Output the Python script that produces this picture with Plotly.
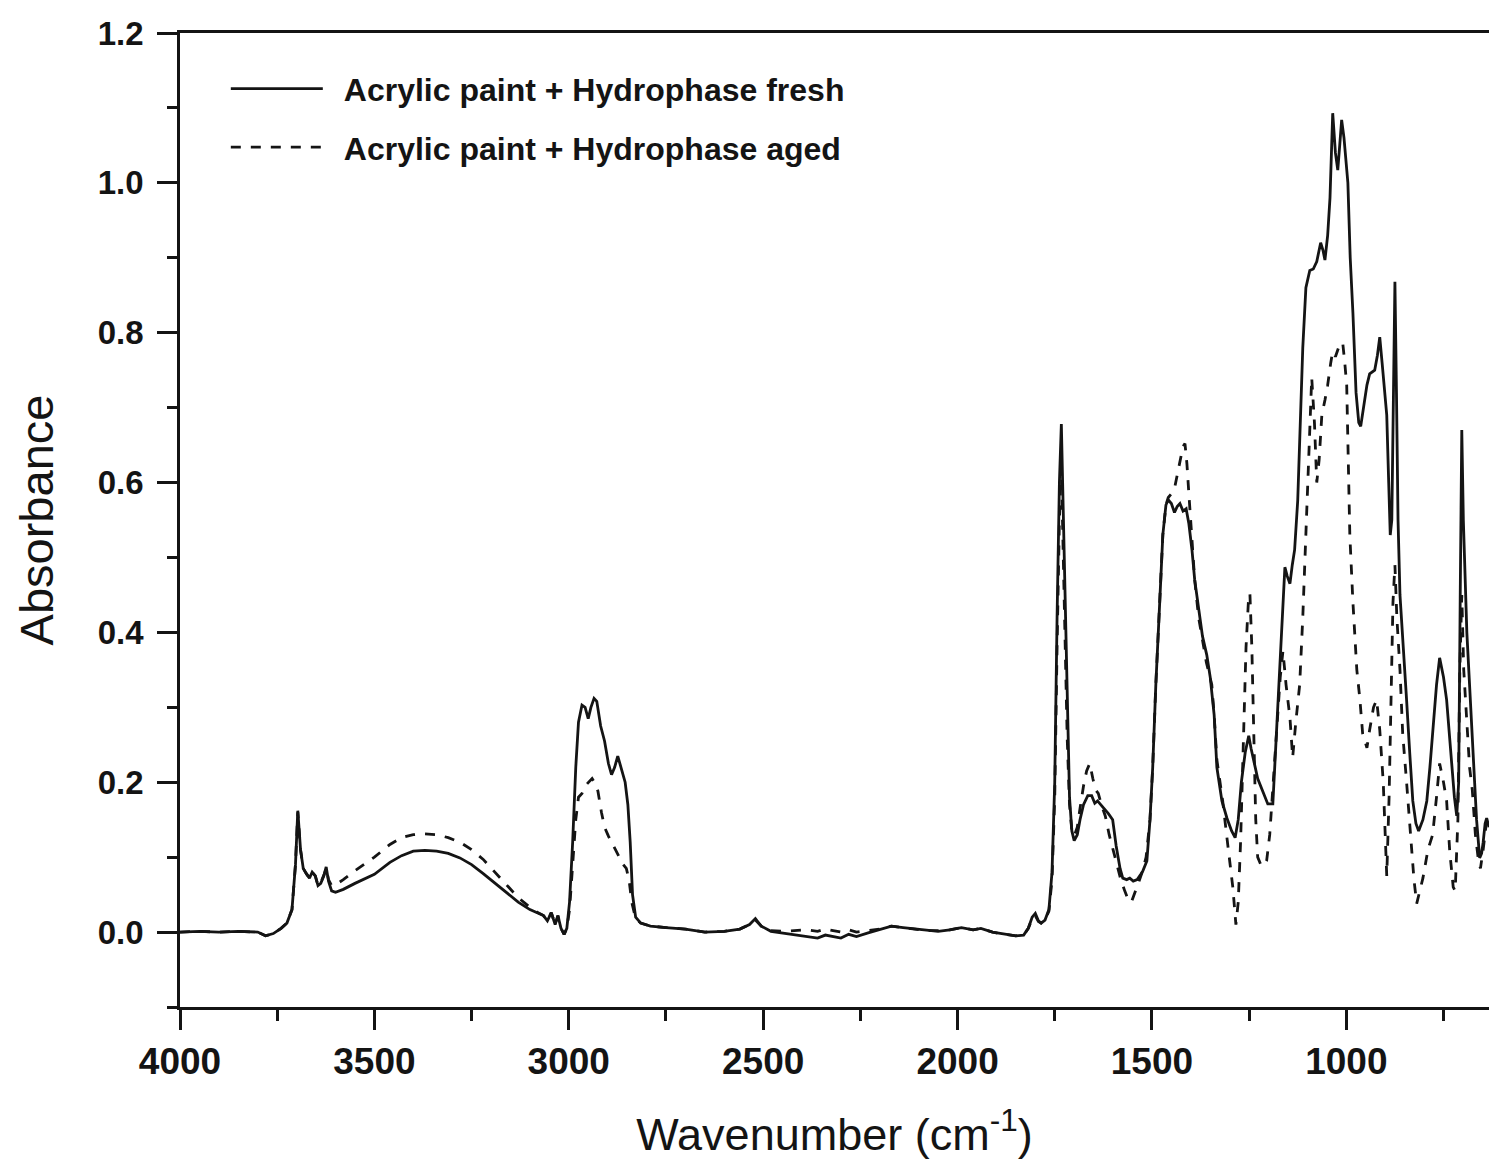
import plotly.graph_objects as go

# ---------------- data ----------------
wn_fresh = [4000, 3950, 3900, 3850, 3800, 3780, 3760, 3740, 3725, 3712, 3703, 3697, 3690, 3683, 3675, 3667,
            3660, 3652, 3645, 3638, 3630, 3624, 3618, 3610, 3600, 3580, 3550, 3500, 3460, 3430, 3400, 3370,
            3340, 3310, 3280, 3250, 3220, 3190, 3160, 3130, 3100, 3080, 3065, 3055, 3045, 3035, 3028, 3020,
            3012, 3005, 2998, 2990, 2982, 2975, 2966, 2958, 2950, 2943, 2935, 2928, 2918, 2908, 2898, 2890,
            2882, 2874, 2865, 2855, 2848, 2842, 2836, 2828, 2815, 2790, 2750, 2700, 2650, 2600, 2560, 2535,
            2520, 2505, 2480, 2450, 2420, 2390, 2360, 2340, 2320, 2300, 2280, 2260, 2230, 2200, 2170, 2140,
            2110, 2080, 2050, 2020, 1990, 1960, 1940, 1910, 1880, 1850, 1830, 1818, 1808, 1800, 1792, 1785,
            1775, 1765, 1757, 1750, 1744, 1738, 1733, 1728, 1723, 1718, 1712, 1706, 1700, 1692, 1685, 1676,
            1665, 1655, 1647, 1640, 1632, 1622, 1612, 1601, 1592, 1582, 1575, 1565, 1557, 1548, 1538, 1530,
            1523, 1513, 1505, 1498, 1490, 1480, 1472, 1464, 1458, 1450, 1442, 1435, 1428, 1420, 1412, 1405,
            1397, 1390, 1380, 1370, 1359, 1350, 1340, 1333, 1320, 1307, 1295, 1286, 1278, 1270, 1260, 1251,
            1245, 1237, 1228, 1215, 1202, 1189, 1180, 1171, 1164, 1158, 1152, 1145, 1139, 1133, 1125, 1118,
            1112, 1104, 1094, 1085, 1076, 1066, 1060, 1055, 1048, 1042, 1035, 1028, 1022, 1017, 1012, 1006,
            1000, 996, 990, 983, 975, 968, 963, 955, 947, 940, 933, 927, 920, 914, 908, 902,
            896, 891, 887, 883, 879, 875, 871, 867, 862, 853, 845, 837, 829, 821, 814, 803,
            793, 785, 778, 768, 760, 750, 742, 736, 729, 722, 716, 711, 707, 703, 699, 694,
            690, 683, 676, 670, 665, 657, 652, 648, 643, 639, 633]
abs_fresh = [0.000, 0.001, 0.000, 0.001, 0.000, -0.005, -0.002, 0.005, 0.012, 0.030, 0.090, 0.162, 0.110, 0.085, 0.078, 0.072,
             0.080, 0.075, 0.062, 0.065, 0.075, 0.087, 0.068, 0.055, 0.053, 0.057, 0.065, 0.077, 0.093, 0.102, 0.108, 0.109,
             0.108, 0.105, 0.099, 0.090, 0.078, 0.065, 0.052, 0.040, 0.030, 0.025, 0.022, 0.015, 0.026, 0.010, 0.022, 0.005,
             -0.003, 0.005, 0.040, 0.120, 0.220, 0.280, 0.303, 0.300, 0.285, 0.300, 0.312, 0.308, 0.275, 0.255, 0.225, 0.210,
             0.220, 0.235, 0.220, 0.200, 0.170, 0.120, 0.050, 0.020, 0.012, 0.008, 0.006, 0.004, 0.000, 0.001, 0.004, 0.010,
             0.018, 0.008, 0.001, -0.001, -0.003, -0.005, -0.008, -0.004, -0.006, -0.008, -0.003, -0.006, -0.001, 0.003, 0.008, 0.006,
             0.004, 0.002, 0.001, 0.003, 0.006, 0.003, 0.005, 0.000, -0.003, -0.005, -0.004, 0.005, 0.020, 0.025, 0.015, 0.012,
             0.016, 0.030, 0.080, 0.200, 0.420, 0.600, 0.678, 0.560, 0.420, 0.280, 0.180, 0.135, 0.122, 0.130, 0.150, 0.170,
             0.182, 0.182, 0.172, 0.175, 0.170, 0.165, 0.158, 0.150, 0.115, 0.085, 0.072, 0.070, 0.072, 0.068, 0.070, 0.076,
             0.082, 0.095, 0.150, 0.220, 0.330, 0.440, 0.530, 0.570, 0.577, 0.572, 0.560, 0.568, 0.572, 0.562, 0.565, 0.545,
             0.510, 0.470, 0.430, 0.395, 0.370, 0.340, 0.290, 0.220, 0.175, 0.152, 0.135, 0.126, 0.150, 0.200, 0.240, 0.262,
             0.245, 0.225, 0.205, 0.188, 0.171, 0.171, 0.260, 0.353, 0.430, 0.487, 0.475, 0.465, 0.490, 0.510, 0.576, 0.680,
             0.780, 0.860, 0.883, 0.885, 0.895, 0.920, 0.910, 0.897, 0.930, 0.980, 1.093, 1.040, 1.017, 1.050, 1.084, 1.060,
             1.020, 1.000, 0.900, 0.826, 0.720, 0.680, 0.675, 0.700, 0.730, 0.745, 0.748, 0.750, 0.770, 0.794, 0.760, 0.720,
             0.690, 0.600, 0.530, 0.550, 0.750, 0.868, 0.720, 0.550, 0.450, 0.380, 0.310, 0.240, 0.175, 0.145, 0.135, 0.150,
             0.175, 0.220, 0.265, 0.330, 0.366, 0.340, 0.310, 0.270, 0.220, 0.180, 0.155, 0.200, 0.450, 0.670, 0.550, 0.470,
             0.400, 0.330, 0.265, 0.200, 0.150, 0.099, 0.105, 0.120, 0.145, 0.152, 0.140]

wn_aged = [4000, 3950, 3900, 3850, 3800, 3780, 3760, 3740, 3725, 3712, 3703, 3697, 3690, 3683, 3675, 3667,
           3660, 3652, 3645, 3638, 3630, 3624, 3618, 3610, 3600, 3580, 3550, 3500, 3460, 3430, 3400, 3370,
           3340, 3310, 3280, 3250, 3220, 3190, 3160, 3130, 3100, 3080, 3065, 3055, 3045, 3035, 3028, 3020,
           3012, 3005, 2998, 2990, 2982, 2975, 2966, 2958, 2950, 2940, 2932, 2925, 2916, 2908, 2898, 2890,
           2880, 2870, 2860, 2852, 2845, 2838, 2828, 2815, 2790, 2750, 2700, 2650, 2600, 2560, 2535, 2520,
           2505, 2480, 2450, 2420, 2390, 2360, 2340, 2320, 2300, 2280, 2260, 2230, 2200, 2170, 2140, 2110,
           2080, 2050, 2020, 1990, 1960, 1940, 1910, 1880, 1850, 1830, 1818, 1808, 1800, 1792, 1785, 1775,
           1765, 1757, 1750, 1744, 1738, 1733, 1728, 1723, 1718, 1712, 1706, 1700, 1692, 1685, 1676, 1668,
           1660, 1652, 1645, 1638, 1630, 1620, 1610, 1600, 1590, 1580, 1570, 1560, 1553, 1545, 1535, 1525,
           1515, 1505, 1498, 1490, 1480, 1472, 1464, 1458, 1450, 1442, 1435, 1428, 1420, 1415, 1410, 1405,
           1397, 1390, 1380, 1372, 1360, 1346, 1340, 1333, 1325, 1318, 1308, 1300, 1292, 1284, 1278, 1272,
           1265, 1258, 1252, 1248, 1243, 1238, 1233, 1228, 1220, 1212, 1205, 1197, 1188, 1178, 1170, 1163,
           1155, 1145, 1138, 1130, 1120, 1112, 1102, 1096, 1089, 1082, 1076, 1070, 1063, 1055, 1048, 1040,
           1035, 1028, 1020, 1014, 1009, 1004, 999, 991, 983, 973, 965, 958, 947, 940, 930, 922,
           914, 905, 900, 896, 890, 885, 880, 875, 870, 862, 855, 845, 836, 826, 819, 811,
           803, 790, 778, 768, 760, 750, 742, 734, 725, 720, 713, 708, 703, 698, 690, 683,
           676, 668, 660, 655, 648, 640, 633]
abs_aged = [0.000, 0.001, 0.000, 0.001, 0.000, -0.005, -0.002, 0.005, 0.012, 0.030, 0.090, 0.160, 0.110, 0.085, 0.078, 0.072,
            0.080, 0.075, 0.062, 0.066, 0.076, 0.085, 0.070, 0.062, 0.063, 0.070, 0.082, 0.100, 0.117, 0.126, 0.130, 0.131,
            0.130, 0.126, 0.120, 0.110, 0.097, 0.080, 0.062, 0.046, 0.033, 0.026, 0.022, 0.015, 0.026, 0.010, 0.022, 0.005,
            -0.003, 0.005, 0.030, 0.090, 0.150, 0.180, 0.185, 0.195, 0.200, 0.205, 0.198, 0.188, 0.160, 0.140, 0.128, 0.120,
            0.108, 0.098, 0.090, 0.085, 0.070, 0.040, 0.018, 0.012, 0.008, 0.006, 0.004, 0.000, 0.001, 0.004, 0.010, 0.016,
            0.008, 0.002, 0.001, 0.002, 0.003, 0.001, 0.004, 0.002, 0.000, 0.003, 0.000, 0.002, 0.004, 0.008, 0.006, 0.004,
            0.002, 0.002, 0.003, 0.006, 0.003, 0.005, 0.000, -0.003, -0.005, -0.004, 0.005, 0.018, 0.022, 0.014, 0.012, 0.016,
            0.028, 0.070, 0.180, 0.380, 0.550, 0.620, 0.500, 0.380, 0.260, 0.170, 0.135, 0.128, 0.140, 0.165, 0.195, 0.215,
            0.225, 0.205, 0.190, 0.185, 0.170, 0.155, 0.130, 0.110, 0.090, 0.070, 0.055, 0.042, 0.040, 0.050, 0.065, 0.080,
            0.100, 0.150, 0.220, 0.330, 0.440, 0.530, 0.570, 0.580, 0.585, 0.592, 0.610, 0.630, 0.648, 0.652, 0.625, 0.585,
            0.520, 0.470, 0.420, 0.398, 0.360, 0.330, 0.290, 0.230, 0.200, 0.175, 0.130, 0.095, 0.060, 0.010, 0.040, 0.120,
            0.250, 0.380, 0.440, 0.452, 0.380, 0.260, 0.150, 0.100, 0.090, 0.088, 0.095, 0.130, 0.200, 0.280, 0.340, 0.375,
            0.330, 0.286, 0.233, 0.280, 0.330, 0.420, 0.560, 0.650, 0.740, 0.680, 0.600, 0.630, 0.690, 0.710, 0.730, 0.760,
            0.775, 0.768, 0.780, 0.778, 0.785, 0.760, 0.730, 0.530, 0.440, 0.350, 0.310, 0.265, 0.246, 0.270, 0.300, 0.310,
            0.270, 0.200, 0.140, 0.075, 0.180, 0.300, 0.440, 0.490, 0.420, 0.350, 0.265, 0.200, 0.140, 0.070, 0.038, 0.055,
            0.072, 0.110, 0.130, 0.180, 0.225, 0.200, 0.175, 0.108, 0.060, 0.055, 0.150, 0.350, 0.450, 0.350, 0.280, 0.220,
            0.190, 0.130, 0.095, 0.085, 0.110, 0.145, 0.145]

series_names = ["Acrylic paint + Hydrophase fresh", "Acrylic paint + Hydrophase aged"]
x_tick_vals = [4000, 3500, 3000, 2500, 2000, 1500, 1000]
y_tick_vals = [0.0, 0.2, 0.4, 0.6, 0.8, 1.0, 1.2]

# ---------------- figure ----------------
FONT = "Liberation Sans, Arial, sans-serif"
INK = "#141414"
PAD = "\u2002"  # small visual gap between legend sample and its label

fig = go.Figure()
fig.add_trace(go.Scatter(x=wn_fresh, y=abs_fresh, mode="lines", name=PAD + series_names[0],
                         legendgroup="a",
                         line=dict(color=INK, width=2.8)))
fig.add_trace(go.Scatter(x=wn_aged, y=abs_aged, mode="lines", name=PAD + series_names[1],
                         legendgroup="b",
                         line=dict(color=INK, width=2.8, dash="10px,10px")))

fig.update_layout(
    width=1489, height=1164,
    margin=dict(l=180, r=0, t=33, b=157, pad=0),
    paper_bgcolor="white", plot_bgcolor="white",
    font=dict(family=FONT, color=INK),
    showlegend=True,
    legend=dict(x=0.035, y=0.971, xanchor="left", yanchor="top",
                bgcolor="rgba(0,0,0,0)", borderwidth=0,
                font=dict(family=FONT, size=32, color=INK, weight="bold"),
                traceorder="grouped", tracegroupgap=14, itemwidth=92),
)

fig.update_xaxes(
    range=[4000, 633],
    tickmode="array", tickvals=x_tick_vals, ticktext=[str(v) for v in x_tick_vals],
    ticks="outside", ticklen=20, tickwidth=2.5, tickcolor=INK,
    minor=dict(ticks="outside", ticklen=11, tickwidth=2.5, tickcolor=INK, dtick=250, tick0=4000, showgrid=False),
    showline=True, linewidth=2.5, linecolor=INK, mirror=True,
    showgrid=False, zeroline=False,
    tickfont=dict(family=FONT, size=37, color=INK, weight="bold"),
    ticklabelstandoff=0,
    title=dict(text="Wavenumber (cm<sup>-1</sup>)", font=dict(family=FONT, size=45, color=INK), standoff=38),
)
fig.update_yaxes(
    range=[-0.1, 1.2],
    tickmode="array", tickvals=y_tick_vals, ticktext=[f"{v:.1f}" for v in y_tick_vals],
    ticks="outside", ticklen=20, tickwidth=2.5, tickcolor=INK,
    minor=dict(ticks="outside", ticklen=10, tickwidth=2.5, tickcolor=INK, dtick=0.1, tick0=0, showgrid=False),
    showline=True, linewidth=2.5, linecolor=INK, mirror=False,
    showgrid=False, zeroline=False,
    tickfont=dict(family=FONT, size=33, color=INK, weight="bold"),
    ticklabelstandoff=7,
    title=dict(text="Absorbance", font=dict(family=FONT, size=47, color=INK), standoff=30),
)

fig.write_html("out.html")
